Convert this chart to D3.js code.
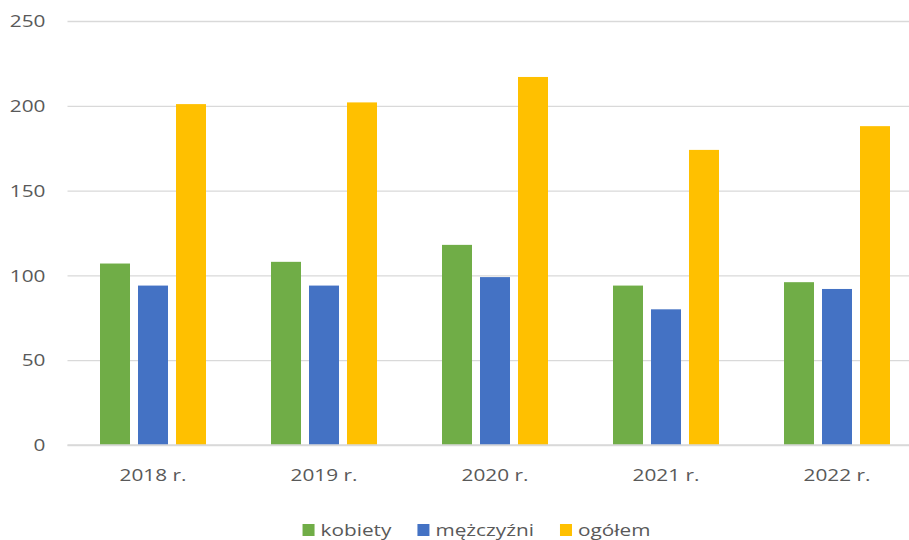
<!DOCTYPE html>
<html>
<head>
<meta charset="utf-8">
<script src="https://cdn.jsdelivr.net/npm/d3@7"></script>
<style>
  body { margin: 0; background: #fff; }
  text { font-family: "Open Sans", sans-serif; fill: #595959; }
</style>
</head>
<body>
<div id="wrapper"></div>
<script>
const years = ["2018 r.", "2019 r.", "2020 r.", "2021 r.", "2022 r."];
const seriesNames = ["kobiety", "mężczyźni", "ogółem"];
const kobiety = [107, 108, 118, 94, 96];
const mezczyzni = [94, 94, 99, 80, 92];
const ogolem = [201, 202, 217, 174, 188];
const yTicks = [0, 50, 100, 150, 200, 250];
const colors = ["#70AD47", "#4472C4", "#FFC000"];

const seriesValues = [kobiety, mezczyzni, ogolem];
const dataset = years.map((y, i) => ({
  year: y,
  values: seriesNames.map((s, j) => ({ key: s, value: seriesValues[j][i] })),
}));

/* CHART DIMENSIONS */
const dimensions = {
  width: 909,
  height: 540,
  margin: { top: 21, left: 67.5 },
  boundedWidth: 855,
  boundedHeight: 424,
};
const stretch = 1.3;

/* SCALES */
const xScale = d3.scaleBand()
  .domain(years)
  .range([0, dimensions.boundedWidth]);

const groupWidth = 106;
const x1Scale = d3.scaleBand()
  .domain(seriesNames)
  .range([(xScale.bandwidth() - groupWidth) / 2, (xScale.bandwidth() + groupWidth) / 2])
  .paddingInner(8 / 38);

const yScale = d3.scaleLinear()
  .domain([0, 250])
  .range([dimensions.boundedHeight, 0]);

const colorScale = d3.scaleOrdinal(seriesNames, colors);

/* DRAW */
const wrapper = d3.select("#wrapper")
  .append("svg")
  .attr("width", dimensions.width)
  .attr("height", dimensions.height);

const bounds = wrapper.append("g")
  .attr("transform", `translate(${dimensions.margin.left}, ${dimensions.margin.top})`);

// y axis with gridlines
const yAxis = bounds.append("g")
  .call(d3.axisLeft(yScale).tickValues(yTicks).tickSize(-dimensions.width).tickFormat(d3.format("d")));
yAxis.select(".domain").remove();
yAxis.selectAll("line").attr("stroke", "#D9D9D9").attr("stroke-width", 1.3);
yAxis.selectAll("text")
  .attr("x", -22 / stretch)
  .attr("dy", "0.35em")
  .attr("transform", `scale(${stretch},1)`)
  .style("font-size", "16px")
  .style("fill", "#595959");

// bars
const groups = bounds.selectAll(".group")
  .data(dataset)
  .join("g")
  .attr("class", "group")
  .attr("transform", (d) => `translate(${xScale(d.year)}, 0)`);

groups.selectAll("rect")
  .data((d) => d.values)
  .join("rect")
  .attr("x", (d) => x1Scale(d.key))
  .attr("width", x1Scale.bandwidth())
  .attr("y", (d) => yScale(d.value))
  .attr("height", (d) => dimensions.boundedHeight - yScale(d.value))
  .attr("fill", (d) => colorScale(d.key));

// x axis
const xAxis = bounds.append("g")
  .attr("transform", `translate(0, ${dimensions.boundedHeight})`)
  .call(d3.axisBottom(xScale).tickSize(0));
xAxis.select(".domain").remove();
xAxis.selectAll("text")
  .attr("y", 0)
  .attr("dy", 36)
  .attr("transform", function () {
    return `scale(${stretch},1)`;
  })
  .attr("x", 0)
  .style("font-size", "16px")
  .style("fill", "#595959");
// recentre x labels after scaling
xAxis.selectAll(".tick").each(function (d) {
  const t = d3.select(this);
  const tx = xScale(d) + xScale.bandwidth() / 2;
  t.attr("transform", `translate(${tx}, 0)`);
});

// baseline over bars
bounds.append("line")
  .attr("x1", 0)
  .attr("x2", dimensions.width)
  .attr("y1", dimensions.boundedHeight)
  .attr("y2", dimensions.boundedHeight)
  .attr("stroke", "#D9D9D9")
  .attr("stroke-width", 1.3);

/* LEGEND */
const legend = wrapper.append("g").attr("transform", "translate(0, 530)");
const items = legend.selectAll(".item")
  .data(seriesNames)
  .join("g")
  .attr("class", "item");

items.append("rect")
  .attr("x", 0)
  .attr("y", -6)
  .attr("width", 12)
  .attr("height", 12)
  .attr("fill", (d) => colorScale(d));

items.append("text")
  .attr("x", 18 / stretch)
  .attr("dy", "0.35em")
  .attr("transform", `scale(${stretch},1)`)
  .style("font-size", "16px")
  .text((d) => d);

const widths = [];
items.each(function () {
  widths.push(18 + d3.select(this).select("text").node().getComputedTextLength() * stretch);
});
const gap = 26;
const total = d3.sum(widths) + gap * (widths.length - 1);
let cursor = 476.5 - total / 2;
items.attr("transform", (d, i) => {
  const x = cursor;
  cursor += widths[i] + gap;
  return `translate(${x}, 0)`;
});
</script>
</body>
</html>
